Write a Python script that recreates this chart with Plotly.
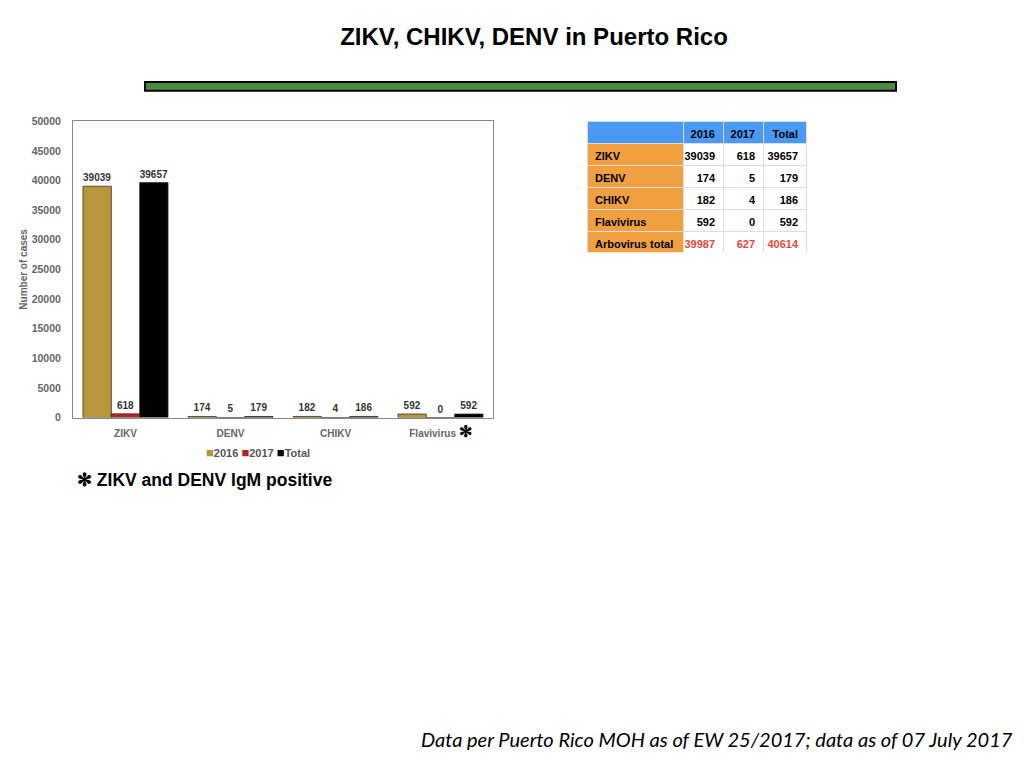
"""
ZIKV, CHIKV, DENV in Puerto Rico - bar chart + summary table
"""
import plotly.graph_objects as go

# Data ---
categories = ['ZIKV', 'DENV', 'CHIKV', 'Flavivirus']
cases_2016 = [39039, 174, 182, 592]
cases_2017 = [618, 5, 4, 0]
cases_total = [39657, 179, 186, 592]

table_rows = ['ZIKV', 'DENV', 'CHIKV', 'Flavivirus', 'Arbovirus\u00a0total']
table_2016 = [39039, 174, 182, 592, 39987]
table_2017 = [618, 5, 4, 0, 627]
table_total = [39657, 179, 186, 592, 40614]

y_ticks = [0, 5000, 10000, 15000, 20000, 25000, 30000, 35000, 40000, 45000, 50000]

# Colors ---
col_2016 = '#b8973a'
col_2017 = '#b3261e'
col_total = '#000000'
axis_grey = '#666666'
header_blue = '#4a9af5'
row_orange = '#f0a040'
red_text = '#e8483a'

series = [('2016', cases_2016, col_2016),
          ('2017', cases_2017, col_2017),
          ('Total', cases_total, col_total)]

# page is drawn with an 8px body margin, so work in a 1016x760 canvas
W, H, OFF = 1016, 760, 8


def px(x):
    return (x - OFF) / W


def py(y):
    return 1 - (y - OFF) / H


fig = go.Figure()

# Bars
for name, vals, color in series:
    fig.add_trace(go.Bar(
        x=categories, y=vals, name=name,
        marker=dict(color=color, line=dict(color='#3a3020', width=0.8)),
        text=[str(v) for v in vals], textposition='outside',
        textfont=dict(size=10, color='#333333', family='Liberation Sans', weight='bold'),
        cliponaxis=False, showlegend=False,
    ))

# Summary table
cell_fill = [[row_orange] * 5, ['white'] * 5, ['white'] * 5, ['white'] * 5]
num_font_col = ['black'] * 4 + [red_text]
fig.add_trace(go.Table(
    domain=dict(x=[px(587), px(806)], y=[py(251), py(117)]),
    columnwidth=[96, 40, 40, 43],
    header=dict(
        values=['', '2016', '2017', 'Total'],
        fill_color=header_blue,
        line=dict(color='#dddddd', width=1),
        align=['left', 'right', 'right', 'right'],
        font=dict(size=11, color='black', family='Liberation Sans', weight='bold'),
        height=22,
    ),
    cells=dict(
        values=[table_rows,
                [str(v) for v in table_2016],
                [str(v) for v in table_2017],
                [str(v) for v in table_total]],
        fill_color=cell_fill,
        line=dict(color='#dddddd', width=1),
        align=['left', 'right', 'right', 'right'],
        font=dict(size=11, family='Liberation Sans', weight='bold',
                  color=[['black'] * 5, num_font_col, num_font_col, num_font_col]),
        height=22,
    ),
))

# Axes
fig.update_xaxes(
    domain=[px(73), px(493)],
    showline=True, mirror=True, linecolor='#888888', linewidth=1,
    tickfont=dict(size=10, color=axis_grey, family='Liberation Sans', weight='bold'),
    tickvals=categories,
    ticktext=['ZIKV', 'DENV', 'CHIKV',
              '<b>Flavivirus</b> <span style="font-size:16px;color:black"><b>\u273b</b></span>'],
    ticks='', showgrid=False, ticklabelstandoff=6,
)
fig.update_yaxes(
    domain=[py(418), py(117)],
    range=[0, 50000],
    tickvals=y_ticks,
    ticktext=[str(t) for t in y_ticks],
    showline=True, mirror=True, linecolor='#888888', linewidth=1,
    tickfont=dict(size=10.5, color=axis_grey, family='Liberation Sans', weight='bold'),
    title=dict(text='Number of cases', standoff=2,
               font=dict(size=10, color=axis_grey, family='Liberation Sans', weight='bold')),
    ticks='', showgrid=False, zeroline=False, ticklabelstandoff=9,
)

# Layout
fig.update_layout(
    width=W, height=H,
    margin=dict(l=0, r=0, t=0, b=0),
    paper_bgcolor='white', plot_bgcolor='white',
    barmode='group', bargap=0.19, bargroupgap=0,
    title=dict(text='ZIKV, CHIKV, DENV in Puerto Rico', x=px(534), xanchor='center',
               y=py(37), yanchor='middle',
               font=dict(size=24, color='black', family='Liberation Sans', weight='bold')),
)

# Legend drawn as a compact text row
legend_text = ' '.join('<span style="color:%s;font-size:13px">\u25a0</span>%s' % (c, n)
                       for n, _, c in series)
fig.add_annotation(text=legend_text, xref='paper', yref='paper',
                   x=px(258), y=py(454), xanchor='center', yanchor='middle',
                   showarrow=False,
                   font=dict(size=11, color='#555555', family='Liberation Sans', weight='bold'))

# Green divider bar
fig.add_shape(type='rect', xref='paper', yref='paper',
              x0=px(145), x1=px(896), y0=py(86), y1=py(77),
              fillcolor='#4a8c3f', line=dict(color='black', width=2))

# Footnote and source
fig.add_annotation(text='<b>\u273b ZIKV and DENV IgM positive</b>', xref='paper', yref='paper',
                   x=px(75), y=py(481), xanchor='left', yanchor='middle',
                   showarrow=False, font=dict(size=17.5, color='black', family='Liberation Sans'))
fig.add_annotation(text='<i>Data per Puerto Rico MOH as of EW 25/2017; data as of 07 July 2017</i>',
                   xref='paper', yref='paper',
                   x=px(1015), y=py(745), xanchor='right', yanchor='middle',
                   showarrow=False, font=dict(size=20, color='black', family='Lato'))

fig.write_html("out.html")
